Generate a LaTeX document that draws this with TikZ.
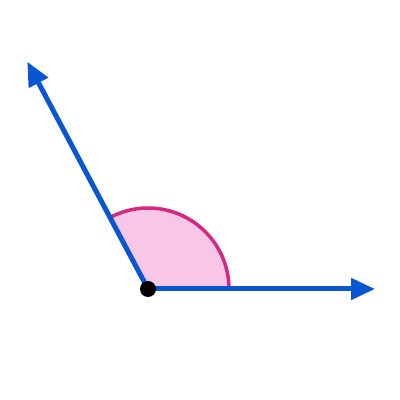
\documentclass[tikz,border=0pt]{standalone}
\usetikzlibrary{arrows.meta,calc}
\definecolor{rayblue}{HTML}{0A55D2}
\definecolor{arcpink}{HTML}{D6287E}
\definecolor{fillpink}{HTML}{F8C6E6}
\tikzset{
  ray/.style={draw=rayblue, line width=5pt, -{Triangle[length=24pt,width=21pt]}},
  anglemark/.style={draw=arcpink, fill=fillpink, line width=3.5pt},
  vertexdot/.style={circle, fill=black, inner sep=0pt, minimum size=16pt}
}
\begin{document}
\begin{tikzpicture}[x=1pt,y=1pt]
\useasboundingbox (0,0) rectangle (400,400);
\fill[white] (0,0) rectangle (400,400);
\coordinate (V) at (148,111);
\coordinate (H) at (375,111);
\coordinate (U) at (27.3,338.3);
\fill[fillpink] (V) -- ++(0:81) arc[start angle=0,end angle=118,radius=81] -- cycle;
\draw[draw=arcpink, line width=3.5pt] ($(V)+(0:81)$) arc[start angle=0,end angle=118,radius=81];
\draw[ray] (V) -- (H);
\draw[ray] (V) -- (U);
\node[vertexdot] (dot) at (V) {};
\end{tikzpicture}
\end{document}
